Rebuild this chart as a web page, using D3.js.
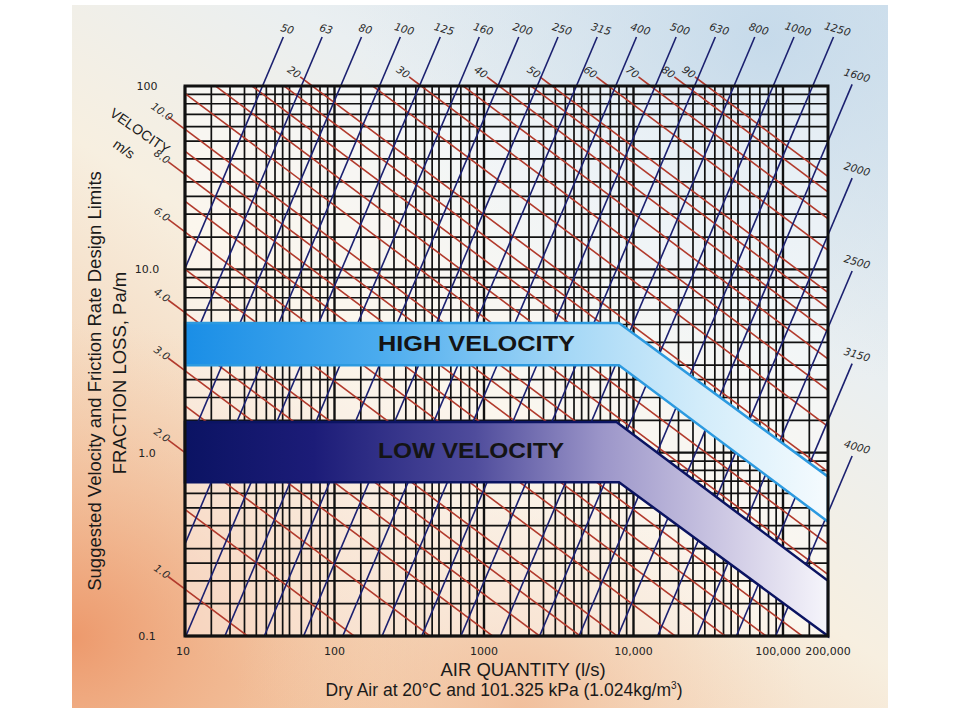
<!DOCTYPE html>
<meta charset="utf-8">
<style>
body{margin:0;background:#fff;font-family:"Liberation Sans",Arial,sans-serif;}
</style>
<body>
<div id="chart"></div>
<script src="https://d3js.org/d3.v7.min.js"></script>
<script>

var width = 960,
    height = 720;

// axes
var xTicks = [10, 100, 1000, 10000, 100000, 200000];
var xTickLabels = ["10", "100", "1000", "10,000", "100,000", "200,000"];
var yTicks = [100, 10, 1, 0.1];
var yTickLabels = ["100", "10.0", "1.0", "0.1"];
var xSteps = [1, 1.5, 2, 2.5, 3, 3.5, 4, 4.5, 5, 6, 7, 8, 9];
var ySteps = [1, 1.5, 2, 2.5, 3, 4, 5, 6, 7, 8, 9];

// duct diameter lines (mm), blue
var ductTop = [50, 63, 80, 100, 125, 160, 200, 250, 315, 400, 500, 630, 800, 1000, 1250];
var ductTopQ = [33, 60, 110, 200, 370, 675, 1240, 2270, 4150, 7600, 14000, 25600, 47000, 86000, 158000]; // l/s at 100 Pa/m
var ductRight = [1600, 2000, 2500, 3150, 4000];
var ductRightF = [50, 15.4, 4.8, 1.5, 0.47]; // Pa/m at 200,000 l/s
var ductExp = 1.92;

// velocity lines (m/s), red
var velLeft = [1, 1.5, 2, 2.5, 3, 3.5, 4, 5, 6, 7, 8, 9, 10, 12];
var velLeftF = [0.18, 0.49, 1.0, 1.8, 2.8, 4.1, 5.8, 10, 16, 23.5, 33, 44, 58, 91]; // Pa/m at 10 l/s
var velLeftLabel = ["1.0", "", "2.0", "", "3.0", "", "4.0", "", "6.0", "", "8.0", "", "10.0", ""];
var velTop = [14, 16, 18, 20, 25, 30, 35, 40, 45, 50, 60, 70, 80, 90];
var velTopQ = [16, 28, 46, 71, 180, 380, 725, 1260, 2060, 2850, 6800, 13000, 22600, 31000]; // l/s at 100 Pa/m
var velTopLabel = ["", "", "", "20", "", "30", "", "40", "", "50", "60", "70", "80", "90"];
var velExp = -0.61;

// design limit bands [l/s, Pa/m]
var highBand = [[10, 5.1], [8000, 5.1], [200000, 0.74], [200000, 0.42], [8000, 3.0], [10, 3.0]];
var lowBand = [[10, 1.47], [7700, 1.47], [200000, 0.2], [200000, 0.1], [8000, 0.69], [10, 0.69]];

var x = d3.scaleLog().domain([10, 200000]).range([185, 828]);
var y = d3.scaleLog().domain([0.1, 100]).range([636, 86]);

var svg = d3.select("#chart").append("svg")
    .attr("width", width)
    .attr("height", height);

var defs = svg.append("defs");

function grad(id, stops, attrs) {
  var g = defs.append(attrs.r ? "radialGradient" : "linearGradient").attr("id", id);
  Object.keys(attrs).forEach(function(k){ g.attr(k, attrs[k]); });
  stops.forEach(function(s){
    g.append("stop").attr("offset", s[0]).attr("stop-color", s[1]).attr("stop-opacity", s[2] == null ? 1 : s[2]);
  });
}

grad("bg", [[0, "#cfdfec"], [0.35, "#eaeff1"], [0.6, "#f7efe0"], [1, "#f3c6a2"]],
  {x1: 1, y1: 0, x2: 0.25, y2: 1});
grad("warm", [[0, "#ec9466", 0.9], [1, "#f3c6a2", 0]],
  {cx: 0.0, cy: 0.9, r: 0.45});
grad("peach", [[0, "#f0b690", 0.7], [1, "#f5d2b4", 0]],
  {cx: 0.55, cy: 1.0, r: 0.35});
grad("sky", [[0, "#c4d9ea", 0.9], [1, "#dce8f0", 0]],
  {cx: 0.85, cy: 0.05, r: 0.5});
grad("highFill", [[0, "#1a8ee6"], [0.3, "#4aabee"], [0.6, "#a6d8f6"], [0.8, "#d2ecfa"], [1, "#f5fbfe"]],
  {gradientUnits: "userSpaceOnUse", x1: 185, y1: 0, x2: 828, y2: 0});
grad("lowFill", [[0, "#0b1363"], [0.2, "#1c1c78"], [0.45, "#4f4c9c"], [0.65, "#9c96c9"], [0.85, "#d0cbe5"], [1, "#f6f5fb"]],
  {gradientUnits: "userSpaceOnUse", x1: 185, y1: 0, x2: 828, y2: 0});

defs.append("clipPath").attr("id", "plotClip")
  .append("rect").attr("x", 185).attr("y", 86).attr("width", 643).attr("height", 550);

// picture background
["bg", "sky", "warm", "peach"].forEach(function(id){
  svg.append("rect").attr("x", 72).attr("y", 5).attr("width", 816).attr("height", 703)
    .attr("fill", "url(#" + id + ")");
});

svg.append("rect").attr("x", 185).attr("y", 86).attr("width", 643).attr("height", 550)
  .attr("fill", "#fff").attr("opacity", 0.45);

// grid
var xGrid = [], yGrid = [];
[10, 100, 1000, 10000].forEach(function(d){ xSteps.forEach(function(s){ xGrid.push(d * s); }); });
xGrid.push(100000, 150000);
[0.1, 1, 10].forEach(function(d){ ySteps.forEach(function(s){ yGrid.push(d * s); }); });

var grid = svg.append("g").attr("stroke", "#111");
grid.selectAll(".vx").data(xGrid).enter().append("line")
  .attr("x1", function(d){ return x(d); }).attr("x2", function(d){ return x(d); })
  .attr("y1", 86).attr("y2", 636)
  .attr("stroke-width", function(d){ return xTicks.indexOf(d) >= 0 ? 2.4 : 1.7; });
grid.selectAll(".hy").data(yGrid).enter().append("line")
  .attr("y1", function(d){ return y(d); }).attr("y2", function(d){ return y(d); })
  .attr("x1", 185).attr("x2", 828)
  .attr("stroke-width", function(d){ return yTicks.indexOf(d) >= 0 ? 2.4 : 1.7; });

// chart lines
function fAt(l, q) { return l.f * Math.pow(q / l.q, l.n); }
var path = d3.line().x(function(d){ return x(d[0]); }).y(function(d){ return y(d[1]); });

var redLines = [], blueLines = [];
velLeft.forEach(function(v, i){
  redLines.push({q: 10, f: velLeftF[i], n: velExp, label: velLeftLabel[i], endQ: 7.7});
});
velTop.forEach(function(v, i){
  redLines.push({q: velTopQ[i], f: 100, n: velExp, label: velTopLabel[i],
    endQ: velTopQ[i] * Math.pow(112 / 100, 1 / velExp)});
});
ductTop.forEach(function(d, i){
  blueLines.push({q: ductTopQ[i], f: 100, n: ductExp, label: String(d),
    endQ: ductTopQ[i] * Math.pow(185 / 100, 1 / ductExp), side: "top"});
});
ductRight.forEach(function(d, i){
  blueLines.push({q: 200000, f: ductRightF[i], n: ductExp, label: String(d), endQ: 290000, side: "right"});
});

function drawLines(data, color) {
  var g = svg.append("g").attr("fill", "none").attr("stroke", color).attr("stroke-width", 1.6);
  g.append("g").attr("clip-path", "url(#plotClip)")
    .selectAll("path").data(data).enter().append("path")
    .attr("d", function(l){ return path([[1, fAt(l, 1)], [1e7, fAt(l, 1e7)]]); });
  g.append("g").selectAll("path").data(data.filter(function(l){ return l.label; })).enter().append("path")
    .attr("d", function(l){ return path([[l.q, l.f], [l.endQ, fAt(l, l.endQ)]]); });
}
drawLines(redLines, "#b23a2c");
drawLines(blueLines, "#1b2070");

// bands
var area = d3.line().x(function(d){ return x(d[0]); }).y(function(d){ return y(d[1]); });
svg.append("path").attr("d", area(highBand) + "Z")
  .attr("fill", "url(#highFill)").attr("stroke", "#2c9ae0").attr("stroke-width", 2.5);
svg.append("path").attr("d", area(lowBand) + "Z")
  .attr("fill", "url(#lowFill)").attr("stroke", "#0b1462").attr("stroke-width", 2.5);

svg.append("text").attr("x", 378).attr("y", 351)
  .attr("textLength", 197).attr("lengthAdjust", "spacingAndGlyphs")
  .attr("font-size", 22).attr("font-weight", "bold").attr("fill", "#141414").text("HIGH VELOCITY");
svg.append("text").attr("x", 378).attr("y", 458)
  .attr("textLength", 186).attr("lengthAdjust", "spacingAndGlyphs")
  .attr("font-size", 22).attr("font-weight", "bold").attr("fill", "#141414").text("LOW VELOCITY");

// frame
svg.append("rect").attr("x", 185).attr("y", 86).attr("width", 643).attr("height", 550)
  .attr("fill", "none").attr("stroke", "#111").attr("stroke-width", 3);

// line labels
var lab = svg.append("g").attr("font-family", "'DejaVu Sans', Verdana, sans-serif")
  .attr("font-size", 10.5).attr("font-style", "italic").attr("fill", "#2a2a2a")
  .attr("text-anchor", "middle");
lab.selectAll(".bl").data(blueLines).enter().append("text")
  .attr("transform", function(l){
    var px = x(l.endQ) + (l.side === "top" ? 4 : 5), py = y(fAt(l, l.endQ)) - (l.side === "top" ? 8 : 9);
    return "translate(" + px + "," + py + ") rotate(16)";
  })
  .attr("dy", "0.35em").text(function(l){ return l.label; });
lab.selectAll(".rl").data(redLines.filter(function(l){ return l.label; })).enter().append("text")
  .attr("transform", function(l){
    var px = x(l.endQ) - 6, py = y(fAt(l, l.endQ)) - 5;
    return "translate(" + px + "," + py + ") rotate(35)";
  })
  .attr("dy", "0.35em").text(function(l){ return l.label; });

// tick labels
var ticks = svg.append("g").attr("font-family", "'DejaVu Sans', Verdana, sans-serif")
  .attr("font-size", 11).attr("fill", "#222").attr("text-anchor", "middle");
ticks.selectAll(".yt").data(yTicks).enter().append("text")
  .attr("x", 147).attr("y", function(d){ return y(d); }).attr("dy", "0.35em")
  .text(function(d, i){ return yTickLabels[i]; });
ticks.selectAll(".xt").data(xTicks).enter().append("text")
  .attr("x", function(d){ return x(d) - (d === 100000 ? 5 : 0) - (d === 10 ? 2 : 0); })
  .attr("y", 655)
  .text(function(d, i){ return xTickLabels[i]; });

// titles
svg.append("text").attr("x", 523).attr("y", 676).attr("text-anchor", "middle")
  .attr("font-size", 18.5).attr("fill", "#1a1a1a").text("AIR QUANTITY (l/s)");
var sub = svg.append("text").attr("x", 504).attr("y", 696).attr("text-anchor", "middle")
  .attr("font-size", 17.5).attr("fill", "#1a1a1a");
sub.append("tspan").text("Dry Air at 20°C and 101.325 kPa (1.024kg/m");
sub.append("tspan").attr("font-size", 10).attr("dy", -7).text("3");
sub.append("tspan").attr("dy", 7).text(")");

svg.append("text").attr("transform", "translate(101,381) rotate(-90)").attr("text-anchor", "middle")
  .attr("font-size", 18.5).attr("fill", "#1a1a1a").text("Suggested Velocity and Friction Rate Design Limits");
svg.append("text").attr("transform", "translate(126,373) rotate(-90)").attr("text-anchor", "middle")
  .attr("font-size", 18.5).attr("fill", "#1a1a1a").text("FRACTION LOSS, Pa/m");

svg.append("text").attr("transform", "translate(140,131) rotate(35)").attr("text-anchor", "middle")
  .attr("dy", "0.35em").attr("font-size", 14).attr("fill", "#1a1a1a").text("VELOCITY");
svg.append("text").attr("transform", "translate(124,149) rotate(35)").attr("text-anchor", "middle")
  .attr("dy", "0.35em").attr("font-size", 14).attr("fill", "#1a1a1a").text("m/s");

</script>
</body>
</html>
